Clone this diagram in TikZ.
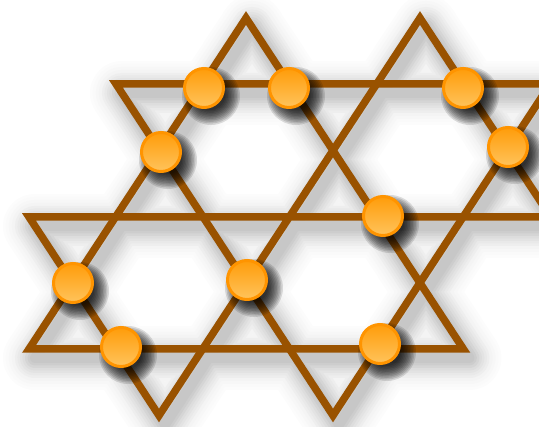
\documentclass[tikz,border=0pt]{standalone}
\definecolor{brn}{HTML}{995200}
\definecolor{ring}{HTML}{FF9400}
\definecolor{topc}{HTML}{FF9C0A}
\definecolor{botc}{HTML}{FFC45C}
\tikzset{
  lat/.style={draw=brn, line width=7.5pt, line join=miter},
  shd/.style={line join=round, line cap=round},
  ballshd/.style={fill=black, fill opacity=0.12},
  ball/.style={circle, minimum size=39pt, inner sep=0pt, draw=ring, line width=3pt,
    top color=topc, bottom color=botc},
}
\newcommand\latpaths[1]{%
  \draw[#1] (A1) -- (L3) -- (R3) -- cycle;
  \draw[#1] (E2) -- (L2) -- (B1) -- (A2) -- (F2);
  \draw[#1] (E1) -- (TL) -- (B2) -- (F3);
}
\newcommand\balllist{204/88/c1, 289/88/c2, 463/88/c3, 161/152/c4, 508/147/c5,
  383/216/c6, 73/283/c7, 247/280/c8, 121/347/c9, 380/344/c10}
\begin{document}
\begin{tikzpicture}[x=1pt,y=-1pt]
\useasboundingbox (0,0) rectangle (539,427);
\clip (0,0) rectangle (539,427);
% lattice vertices
\coordinate (A1) at (246,18);
\coordinate (A2) at (420,18);
\coordinate (TL) at (116,84);
\coordinate (L2) at (29,217);
\coordinate (L3) at (29,349);
\coordinate (R3) at (463.4,349);
\coordinate (B1) at (159,415.5);
\coordinate (B2) at (333,415.5);
\coordinate (E1) at (580,84);
\coordinate (E2) at (580,217);
\coordinate (F2) at (579,260);
\coordinate (F3) at (566,60);
% soft shadows of the lattice
\begin{scope}[transform canvas={xshift=6pt,yshift=-9pt}]
  \foreach \w/\c in {64/1, 58/2, 52/3, 46/4.5, 40/6.5, 35/8.5, 30/11, 25/13.5, 20/16.5, 15/19.5, 10/22} {
    \latpaths{shd, draw=black!\c, line width=\w pt}
  }
\end{scope}
% lattice
\latpaths{lat}
% soft shadows of the balls
\foreach \x/\y/\n in \balllist {
  \foreach \r in {29,27.5,...,14} {
    \fill[ballshd] (\x+7,\y+8) circle[radius=\r];
  }
}
% balls
\foreach \x/\y/\n in \balllist {
  \node[ball] (\n) at (\x,\y) {};
}
\end{tikzpicture}
\end{document}
